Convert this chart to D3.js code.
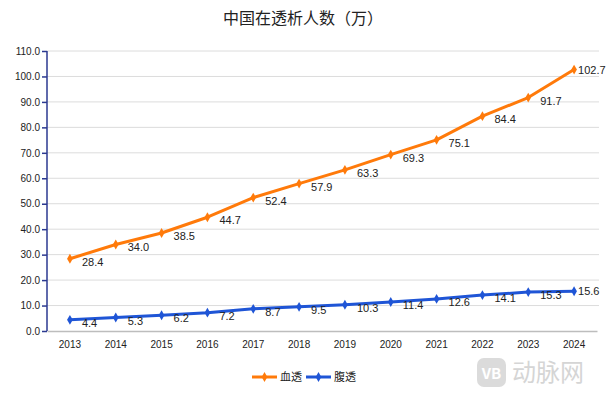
<!DOCTYPE html>
<html>
<head>
<meta charset="utf-8">
<script src="https://d3js.org/d3.v7.min.js"></script>
<style>
  body { margin: 0; background: #fff; }
  svg { display: block; font-family: "Noto Sans CJK SC", "Liberation Sans", sans-serif; }
</style>
</head>
<body>
<script>
  // data
  var years = ["2013","2014","2015","2016","2017","2018","2019","2020","2021","2022","2023","2024"];
  var hemo = [28.4, 34.0, 38.5, 44.7, 52.4, 57.9, 63.3, 69.3, 75.1, 84.4, 91.7, 102.7];
  var perit = [4.4, 5.3, 6.2, 7.2, 8.7, 9.5, 10.3, 11.4, 12.6, 14.1, 15.3, 15.6];
  var seriesNames = ["血透", "腹透"];
  var yTicks = [0,10,20,30,40,50,60,70,80,90,100,110];

  var W = 607, H = 393;
  var margin = {top: 51, right: 10, bottom: 62, left: 47};
  var width = W - margin.left - margin.right,
      height = H - margin.top - margin.bottom;

  var colors = ["#ff7a0a", "#1f55d6"];

  var svg = d3.select("body").append("svg")
      .attr("width", W).attr("height", H);

  svg.append("text")
      .attr("x", 303).attr("y", 24)
      .attr("text-anchor", "middle")
      .style("font-size", "16px")
      .style("fill", "#222")
      .text("中国在透析人数（万）");

  var g = svg.append("g")
      .attr("transform", "translate(" + margin.left + "," + margin.top + ")");

  var x = d3.scaleBand().domain(years).range([0, width]);
  var y = d3.scaleLinear().domain([0, 110]).range([height, 0]);

  // gridlines
  g.selectAll(".grid").data(yTicks.slice(1)).enter().append("line")
      .attr("x1", 0).attr("x2", width + 2)
      .attr("y1", function(d){ return y(d); }).attr("y2", function(d){ return y(d); })
      .attr("stroke", "#dcdcdc").attr("stroke-width", 1);

  // x axis
  var xAxis = g.append("g")
      .attr("transform", "translate(0," + height + ")")
      .call(d3.axisBottom(x).tickSize(0).tickPadding(10));
  xAxis.select(".domain").attr("stroke", "#bdbdbd").attr("stroke-width", 1.5);
  xAxis.selectAll("text").style("font-size", "10px").style("fill", "#222")
      .style("font-family", "Liberation Sans, sans-serif");

  // y axis
  var yAxis = g.append("g")
      .call(d3.axisLeft(y).tickValues(yTicks).tickSize(5).tickPadding(2)
            .tickFormat(d3.format(".1f")));
  yAxis.select(".domain").attr("stroke", "#2b3990").attr("stroke-width", 1.5)
      .attr("d", "M0," + (height) + "V0");
  yAxis.selectAll(".tick line").attr("stroke", "#2b3990").attr("stroke-width", 1.5);
  yAxis.selectAll("text").style("font-size", "10px").style("fill", "#222")
      .style("font-family", "Liberation Sans, sans-serif");

  var line = d3.line()
      .x(function(d, i){ return x(years[i]) + x.bandwidth() / 2; })
      .y(function(d){ return y(d); });

  var diamond = d3.symbol().type(d3.symbolDiamond).size(28);

  [hemo, perit].forEach(function(vals, s) {
    g.append("path").datum(vals)
        .attr("d", line)
        .attr("fill", "none")
        .attr("stroke", colors[s])
        .attr("stroke-width", 3)
        .attr("stroke-linejoin", "round");

    g.selectAll(".pt" + s).data(vals).enter().append("path")
        .attr("d", diamond)
        .attr("transform", function(d, i){
          return "translate(" + (x(years[i]) + x.bandwidth() / 2) + "," + y(d) + ")";
        })
        .attr("fill", colors[s]);

    g.selectAll(".lbl" + s).data(vals).enter().append("text")
        .attr("x", function(d, i){ return x(years[i]) + x.bandwidth() / 2 + (i == vals.length - 1 ? 4 : 12); })
        .attr("y", function(d, i){ return y(d) + (i == vals.length - 1 ? 4 : 7); })
        .style("font-size", "11px")
        .style("fill", "#222")
        .style("font-family", "Liberation Sans, sans-serif")
        .text(function(d){ return d.toFixed(1); });
  });

  // legend
  var legendX = [252, 306];
  seriesNames.forEach(function(name, s) {
    var lg = svg.append("g").attr("transform", "translate(" + legendX[s] + ",377)");
    lg.append("line").attr("x1", 0).attr("x2", 25).attr("y1", 0).attr("y2", 0)
        .attr("stroke", colors[s]).attr("stroke-width", 3);
    lg.append("path").attr("d", diamond).attr("transform", "translate(12.5,0)").attr("fill", colors[s]);
    lg.append("text").attr("x", 28).attr("y", 4)
        .style("font-size", "11px").style("fill", "#222").text(name);
  });

  // watermark
  var wm = svg.append("g").attr("transform", "translate(477,358)").style("opacity", 0.35);
  wm.append("rect").attr("width", 29).attr("height", 29).attr("rx", 7).attr("fill", "#999");
  wm.append("text").attr("x", 14.5).attr("y", 21).attr("text-anchor", "middle")
      .style("font-size", "15px").style("font-weight", "bold").style("fill", "#fff").text("VB");
  wm.append("text").attr("x", 35).attr("y", 23)
      .style("font-size", "24px").style("fill", "#888").text("动脉网");
</script>
</body>
</html>
